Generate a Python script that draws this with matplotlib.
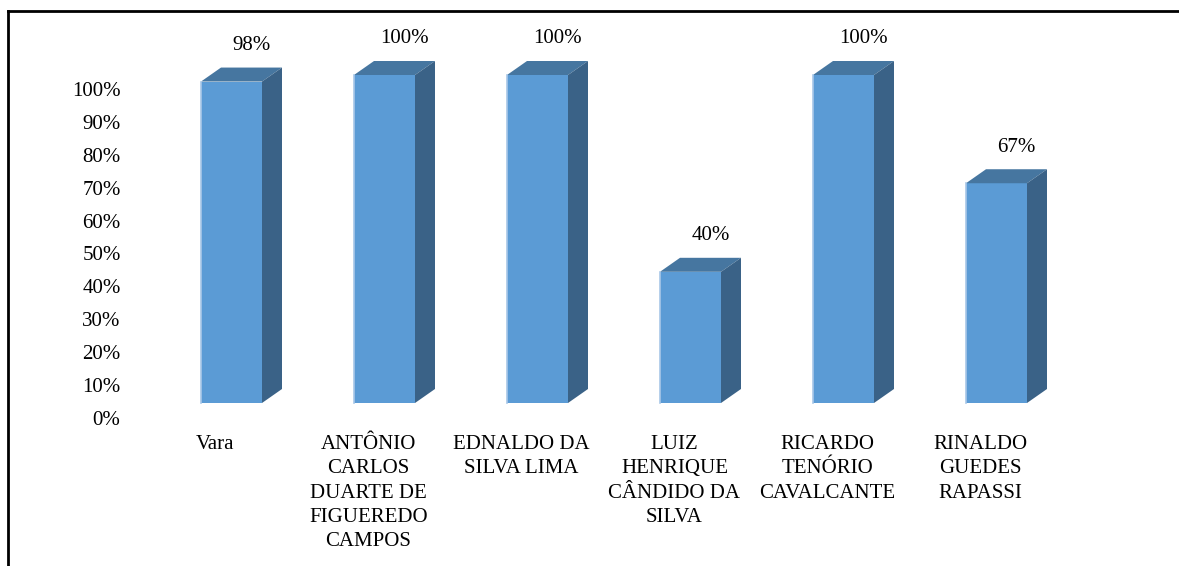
import matplotlib.pyplot as plt
import numpy as np
from matplotlib.patches import Polygon
from matplotlib.lines import Line2D

plt.rcParams['font.family'] = ['Liberation Serif', 'DejaVu Serif']

# data
categories = ["Vara",
              "ANTÔNIO\nCARLOS\nDUARTE DE\nFIGUEREDO\nCAMPOS",
              "EDNALDO DA\nSILVA LIMA",
              "LUIZ\nHENRIQUE\nCÂNDIDO DA\nSILVA",
              "RICARDO\nTENÓRIO\nCAVALCANTE",
              "RINALDO\nGUEDES\nRAPASSI"]
values = [98, 100, 100, 40, 100, 67]
labels = ["98%", "100%", "100%", "40%", "100%", "67%"]
yticks = [0, 10, 20, 30, 40, 50, 60, 70, 80, 90, 100]

front_col = "#5b9bd5"
top_col = "#4676a0"
side_col = "#3a6287"

W, H = 1179, 566
fig = plt.figure(figsize=(W / 100, H / 100), dpi=100)

# main axes covering the whole figure; scales chosen so the bars land where they should
ax = fig.add_axes([0, 0, 1, 1])
step = 153.0          # pixels per category
ppu = 3.28            # pixels per percent
x0, y0 = 231.5, 403   # first bar centre / baseline in pixels
ax.set_xlim(-x0 / step, (W - x0) / step)
ax.set_ylim((y0 - H) / ppu, y0 / ppu)
ax.axis("off")

x = np.arange(len(values))
w = 61 / step
dx = 20 / step
dy = 14 / ppu

ax.bar(x, values, width=w, color=front_col, zorder=3)
for xi, v in zip(x, values):
    l, r = xi - w / 2, xi + w / 2
    ax.add_patch(Polygon([(l, v), (r, v), (r + dx, v + dy), (l + dx, v + dy)],
                         closed=True, facecolor=top_col, edgecolor="none",
                         zorder=3, clip_on=False))
    ax.add_patch(Polygon([(r, 0), (r + dx, dy), (r + dx, v + dy), (r, v)],
                         closed=True, facecolor=side_col, edgecolor="none",
                         zorder=3, clip_on=False))
    ax.plot([l, l], [0, v], color="#a8c7e8", lw=1.2, zorder=4)

for xi, v, t in zip(x, values, labels):
    ax.text(xi + dx, v + 11, t, ha="center", va="center", fontsize=15)

for xi, c in zip(x, categories):
    ax.text(xi - 0.105, -9.8, c, ha="center", va="top", fontsize=15,
            linespacing=1.38)

# y tick labels sit on their own scale (offset from the bar baseline like the original)
lab_ppu = 3.29
lab0 = 418
axl = fig.add_axes([122 / W, 0, 0.001, 1])
axl.set_ylim((lab0 - H) / lab_ppu, lab0 / lab_ppu)
axl.set_yticks(yticks)
axl.set_yticklabels([f"{t}%" for t in yticks], fontsize=15)
axl.tick_params(axis="y", length=0, pad=1)
axl.set_xticks([])
for s in axl.spines.values():
    s.set_visible(False)
axl.patch.set_alpha(0)

# outer frame (top and left edges visible)
fig.add_artist(Line2D([8 / W, 1], [1 - 11 / H, 1 - 11 / H], color="black", lw=2))
fig.add_artist(Line2D([8 / W, 8 / W], [0, 1 - 11 / H], color="black", lw=2))

fig.savefig("out.png", dpi=100)
